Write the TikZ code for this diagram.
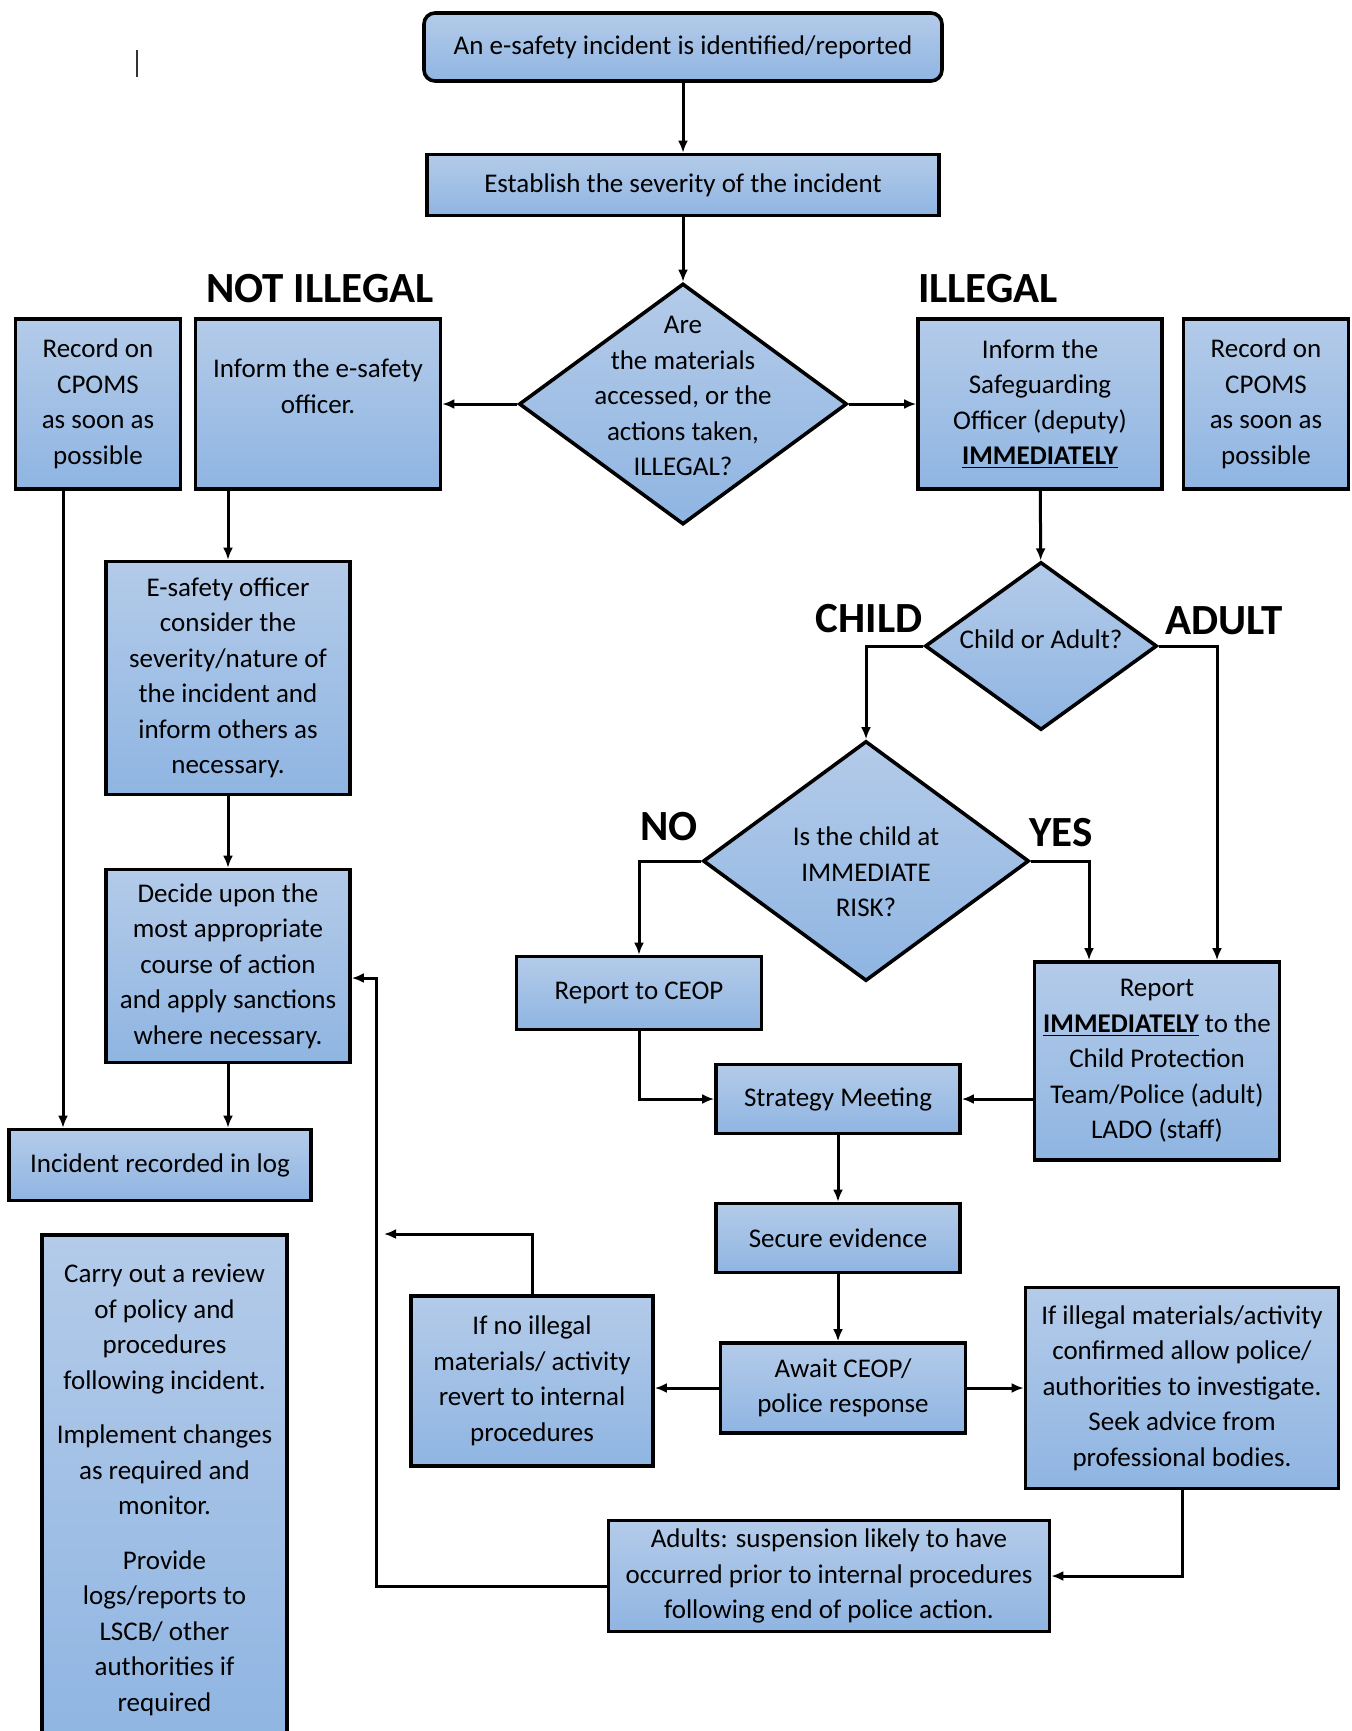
\documentclass[tikz,border=0pt]{standalone}
\usepackage{fontspec}
\setmainfont{Carlito}
\usetikzlibrary{arrows.meta,shapes.geometric}
\definecolor{boxtop}{RGB}{180,203,233}
\definecolor{boxbot}{RGB}{143,181,226}
\tikzset{
  box/.style={draw, line width=1.8pt, top color=boxtop, bottom color=boxbot,
    inner sep=0pt, align=center, font=\fontsize{13.5}{17.75}\selectfont},
  startbox/.style={box, rounded corners=5.5pt},
  dia/.style={diamond, draw, line width=1.8pt, top color=boxtop, bottom color=boxbot,
    inner sep=0pt},
  dlabel/.style={align=center, font=\fontsize{13.5}{17.75}\selectfont},
  lbl/.style={font=\fontsize{21.5}{24}\bfseries\selectfont, inner sep=0pt},
  conn/.style={line width=1.5pt, -{Latex[length=6pt,width=5pt]}}
}
\newcommand{\immed}{\textbf{\underline{IMMEDIATELY}}}
\begin{document}
\begin{tikzpicture}[x=0.5pt, y=-0.5pt]
\useasboundingbox (0,0) rectangle (1351,1731);

% top of the chart
\node[startbox, minimum width=259pt, minimum height=34pt] (start) at (683,47) {An e-safety incident is identified/reported};
\node[box, minimum width=256pt, minimum height=30.5pt] (sev) at (683,185) {Establish the severity of the incident};
\node[dia, minimum width=164pt, minimum height=120.5pt,
  label={[dlabel, yshift=4pt]center:Are\\the materials\\accessed, or the\\actions taken,\\ILLEGAL?}] (illq) at (683,404) {};
\node[lbl] (notlbl) at (320,289) {NOT ILLEGAL};
\node[lbl] (illlbl) at (988,289) {ILLEGAL};

% row of four boxes
\node[box, minimum width=82.5pt, minimum height=85pt] (cpomsl) at (98,404) {Record on\\CPOMS\\as soon as\\possible};
\node[box, minimum width=122.5pt, minimum height=85pt] (infoff) at (318,404) {Inform the e-safety\\officer.\\~};
\node[box, minimum width=122pt, minimum height=85pt] (infsg) at (1040,404) {Inform the\\Safeguarding\\Officer (deputy)\\\immed};
\node[box, minimum width=82.5pt, minimum height=85pt] (cpomsr) at (1266,404) {Record on\\CPOMS\\as soon as\\possible};

% not illegal branch
\node[box, minimum width=122pt, minimum height=116.5pt] (consider) at (228,678) {E-safety officer\\consider the\\severity/nature of\\the incident and\\inform others as\\necessary.};
\node[box, minimum width=122pt, minimum height=96.5pt] (decide) at (228,966) {Decide upon the\\most appropriate\\course of action\\and apply sanctions\\where necessary.};
\node[box, minimum width=151pt, minimum height=35.5pt] (log) at (160,1165) {Incident recorded in log};
\node[box, minimum width=122.5pt, minimum height=255pt] (review) at (164.5,1490) {Carry out a review\\of policy and\\procedures\\following incident.\\[9.5pt]Implement changes\\as required and\\monitor.\\[9.5pt]Provide\\logs/reports to\\LSCB/ other\\authorities if\\required};

% illegal branch
\node[dia, minimum width=116pt, minimum height=84pt,
  label={[dlabel, yshift=3.5pt]center:Child or Adult?}] (chad) at (1041,646) {};
\node[lbl] (childlbl) at (869,619) {CHILD};
\node[lbl] (adultlbl) at (1224,621) {ADULT};
\node[dia, minimum width=163pt, minimum height=120pt,
  label={[dlabel, yshift=-5.5pt]center:Is the child at\\IMMEDIATE\\RISK?}] (riskq) at (866,861) {};
\node[lbl] (nolbl) at (669,827) {NO};
\node[lbl] (yeslbl) at (1061,833) {YES};
\node[box, minimum width=122.5pt, minimum height=36.5pt] (ceop) at (639,993) {Report to CEOP};
\node[box, minimum width=122.5pt, minimum height=99pt] (repimm) at (1157,1061) {Report\\\immed{} to the\\Child Protection\\Team/Police (adult)\\LADO (staff)};
\node[box, minimum width=122pt, minimum height=34.5pt] (strat) at (838,1099) {Strategy Meeting};
\node[box, minimum width=122pt, minimum height=34.5pt] (secure) at (838,1238) {Secure evidence};
\node[box, minimum width=122.5pt, minimum height=45pt] (await) at (843,1388) {Await CEOP/\\police response};
\node[box, minimum width=121pt, minimum height=85pt] (revert) at (532,1381) {If no illegal\\materials/ activity\\revert to internal\\procedures};
\node[box, minimum width=156.5pt, minimum height=100.5pt] (confirm) at (1182,1388) {If illegal materials/activity\\confirmed allow police/\\authorities to investigate.\\Seek advice from\\professional bodies.};
\node[box, minimum width=220.5pt, minimum height=55.5pt] (adults) at (829,1576) {Adults: suspension likely to have\\occurred prior to internal procedures\\following end of police action.};

% loose ends of the return lines
\coordinate (back) at (376,978);
\coordinate (backtip) at (384,1234);

% connectors
\draw[conn] (start) -- (sev);
\draw[conn] (sev) -- (illq);
\draw[conn] (illq.west) -- (infoff.east);
\draw[conn] (illq.east) -- (infsg.west);
\draw[conn] (infoff.south -| consider.north) -- (consider.north);
\draw[conn] (consider) -- (decide);
\draw[conn] (decide.south) -- (decide.south |- log.north);
\draw[conn] ([xshift=-17.5pt]cpomsl.south) -- ([xshift=-17.5pt]cpomsl.south |- log.north);
\draw[conn] (infsg) -- (chad);
\draw[conn] (chad.west) -| (riskq.north);
\draw[conn] (chad.east) -| ([xshift=30pt]repimm.north);
\draw[conn] (riskq.east) -| ([xshift=-34pt]repimm.north);
\draw[conn] (riskq.west) -| (ceop.north);
\draw[conn] (ceop.south) |- (strat.west);
\draw[conn] (repimm.west |- strat.east) -- (strat.east);
\draw[conn] (strat) -- (secure);
\draw[conn] (secure.south) -- (secure.south |- await.north);
\draw[conn] (await.west) -- (await.west -| revert.east);
\draw[conn] (await.east) -- (await.east -| confirm.west);
\draw[conn] (confirm.south) |- (adults.east);
\draw[conn] ([yshift=-5pt]adults.west) -| (back) -- (back -| decide.east);
\draw[conn] (revert.north) |- (backtip);

% stray cursor mark
\draw[line width=1pt, black!80] (137,50) -- (137,77);
\end{tikzpicture}
\end{document}
